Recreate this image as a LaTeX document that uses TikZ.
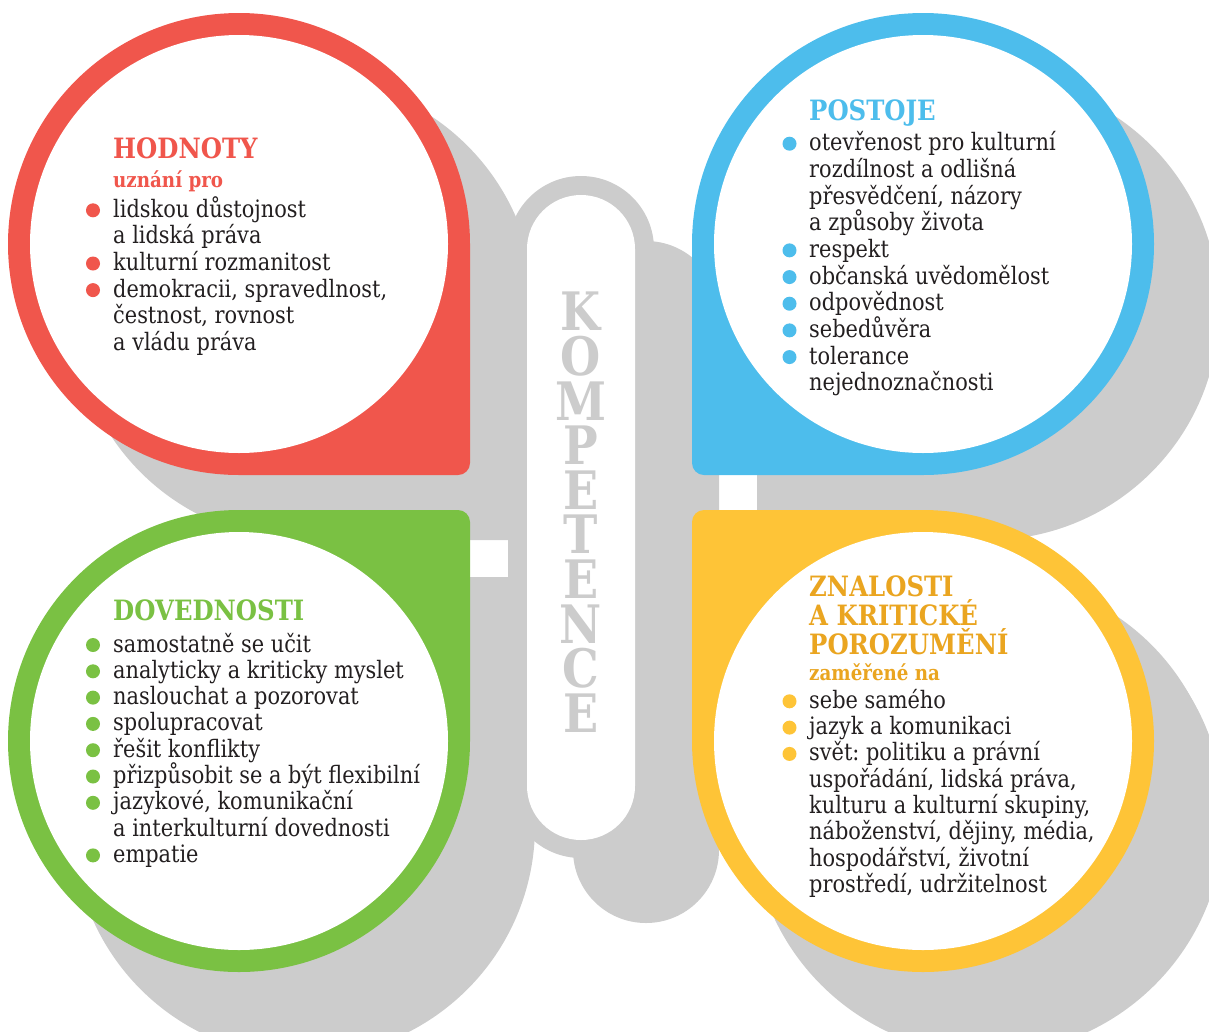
\documentclass[tikz,border=0pt]{standalone}
\usepackage{fontspec}
\setmainfont{DejaVu Serif}[FakeStretch=0.87]
\usepackage{tikz}
\definecolor{hodnoty}{RGB}{240,86,76}
\definecolor{postoje}{RGB}{77,189,236}
\definecolor{dovednosti}{RGB}{122,193,67}
\definecolor{znalosti}{RGB}{254,196,55}
\definecolor{ochre}{RGB}{234,165,32}
\definecolor{grey}{RGB}{204,204,204}
\definecolor{txt}{RGB}{35,31,32}
\frenchspacing

\begin{document}
\begin{tikzpicture}[x=1pt,y=-1pt,
  item/.style={anchor=base west,inner sep=0pt,text=txt,font=\fontsize{24}{26}\selectfont},
  ttl/.style={anchor=base west,inner sep=0pt,text=#1,font=\bfseries\fontsize{28}{29}\selectfont},
  sub/.style={anchor=base west,inner sep=0pt,text=#1,font=\bfseries\fontsize{21}{22}\selectfont},
  kletters/.style={anchor=north,inner sep=0pt,align=center,text=grey,font=\bfseries\fontsize{53}{44.6}\selectfont}]
\def\petal#1#2#3#4{\fill[#1,shift={#2},rotate=#3] (0,#4) arc[start angle=90,end angle=360,radius=#4]
  -- (#4,#4-12) arc[start angle=0,end angle=90,radius=12] -- cycle;}
\useasboundingbox (0,0) rectangle (1209,1031);
\clip (0,0) rectangle (1209,1031);

\petal{grey}{(304,309)}{0}{231}
\petal{grey}{(988,309)}{270}{231}
\petal{grey}{(304,808)}{90}{231}
\petal{grey}{(988,808)}{180}{231}
\fill[grey] (304,826) circle (231);
\fill[grey] (988,818) circle (236);
\fill[grey,rounded corners=73] (573,241) rectangle (719,923);
\fill[grey,rounded corners=73] (508,176) rectangle (654,858);
\fill[white,rounded corners=54] (527,195) rectangle (635,840);

\petal{hodnoty}{(239,244)}{0}{231}
\petal{postoje}{(923,244)}{270}{231}
\petal{dovednosti}{(239,741)}{90}{231}
\petal{znalosti}{(923,741)}{180}{231}
\foreach \c in {(239,244),(923,244),(239,741),(923,741)}
  \fill[white] \c circle (209);

\node[kletters] (kompetence) at (581,292) {K\\O\\M\\P\\E\\T\\E\\N\\C\\E};

\node[ttl=hodnoty] (hodt) at (113,158) {HODNOTY};
\node[sub=hodnoty] (hods) at (113,187) {uznání pro};
\foreach \b/\t [count=\i] in {1/lidskou důstojnost, 0/a lidská práva, 1/kulturní rozmanitost,
  1/{demokracii, spravedlnost,}, 0/{čestnost, rovnost}, 0/a vládu práva} {
  \node[item] (hod\i) at (113,{217.3+26.6*(\i-1)}) {\t};
  \ifnum\b=1 \fill[hodnoty] (93,{210.3+26.6*(\i-1)}) circle (7); \fi
}

\node[ttl=postoje] (post) at (809,120) {POSTOJE};
\foreach \b/\t [count=\i] in {1/otevřenost pro kulturní, 0/rozdílnost a odlišná, 0/{přesvědčení, názory},
  0/a způsoby života, 1/respekt, 1/občanská uvědomělost, 1/odpovědnost, 1/sebedůvěra,
  1/tolerance, 0/nejednoznačnosti} {
  \node[item] (pos\i) at (809,{150.7+26.67*(\i-1)}) {\t};
  \ifnum\b=1 \fill[postoje] (789.5,{143.7+26.67*(\i-1)}) circle (7); \fi
}

\node[ttl=dovednosti] (dovt) at (113,620.7) {DOVEDNOSTI};
\foreach \b/\t [count=\i] in {1/samostatně se učit, 1/analyticky a kriticky myslet, 1/naslouchat a pozorovat,
  1/spolupracovat, 1/řešit konflikty, 1/přizpůsobit se a být flexibilní, 1/{jazykové, komunikační},
  0/a interkulturní dovednosti, 1/empatie} {
  \node[item] (dov\i) at (113,{652+26.3*(\i-1)}) {\t};
  \ifnum\b=1 \fill[dovednosti] (93,{645+26.3*(\i-1)}) circle (7); \fi
}

\node[ttl=ochre] (znat1) at (809,596.7) {ZNALOSTI};
\node[ttl=ochre] (znat2) at (809,625.4) {A KRITICKÉ};
\node[ttl=ochre] (znat3) at (809,654) {POROZUMĚNÍ};
\node[sub=ochre] (zans) at (809,680) {zaměřené na};
\foreach \b/\t [count=\i] in {1/sebe samého, 1/jazyk a komunikaci, 1/{svět: politiku a právní},
  0/{uspořádání, lidská práva,}, 0/{kulturu a kulturní skupiny,}, 0/{náboženství, dějiny, média,},
  0/{hospodářství, životní}, 0/{prostředí, udržitelnost}} {
  \node[item] (zna\i) at (809,{708.3+26.3*(\i-1)}) {\t};
  \ifnum\b=1 \fill[znalosti] (789.5,{701.3+26.3*(\i-1)}) circle (7); \fi
}
\end{tikzpicture}
\end{document}
